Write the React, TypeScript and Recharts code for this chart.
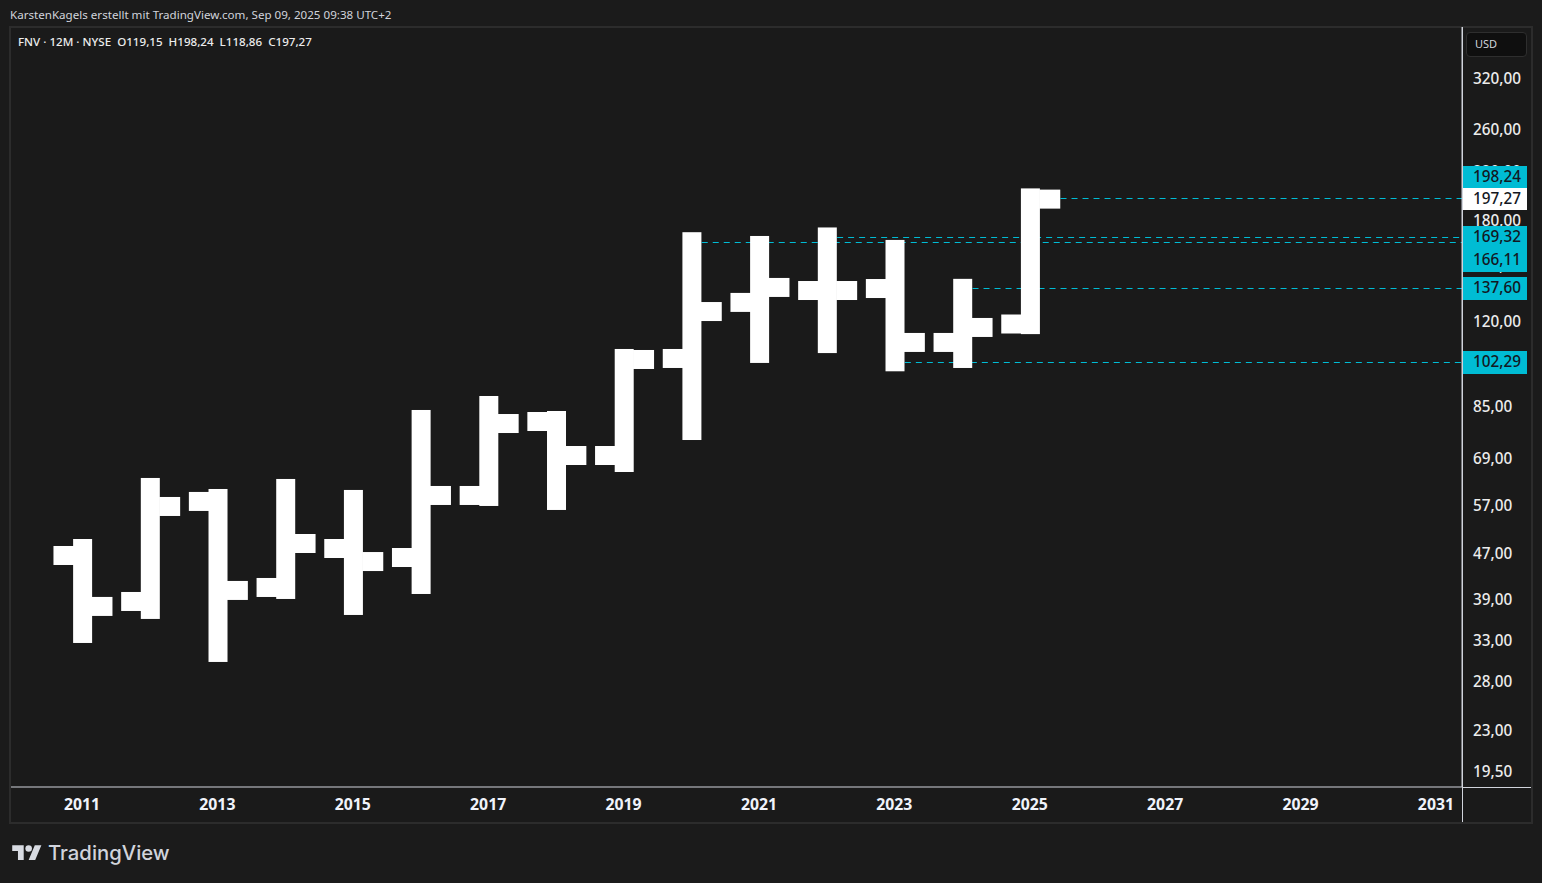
import * as React from 'react'
import { Bar, ComposedChart, Line, ReferenceLine, XAxis, YAxis } from 'recharts'

const years = [2011, 2012, 2013, 2014, 2015, 2016, 2017, 2018, 2019, 2020, 2021, 2022, 2023, 2024, 2025]
const opens = [46.8, 38.87, 58.21, 41.13, 48.14, 46.42, 59.63, 80.38, 70.07, 103.67, 130.0, 136.4, 137.5, 110.6, 119.15]
const highs = [48.14, 61.59, 58.91, 61.34, 58.68, 81.04, 85.75, 80.71, 103.67, 166.11, 163.6, 169.32, 161.0, 137.6, 198.24]
const lows = [34.16, 37.64, 31.64, 40.8, 38.25, 41.63, 59.39, 58.44, 68.12, 77.51, 105.8, 110.1, 102.29, 103.67, 118.86]
const closes = [38.1, 57.04, 40.64, 49.12, 45.67, 59.63, 79.73, 70.07, 103.25, 125.3, 138.1, 136.4, 110.6, 117.5, 197.27]

// 220 and 150 sit mostly behind the price tags, as in the reference
const priceTicks = [320, 260, 220, 180, 150, 120, 85, 69, 57, 47, 39, 33, 28, 23, 19.5]
const yearTicks = [2011, 2013, 2015, 2017, 2019, 2021, 2023, 2025, 2027, 2029, 2031]

// price lines: start year, price
const lineYears = [2020.14, 2022.14, 2023.14, 2024.14, 2025.44]
const linePrices = [166.11, 169.32, 102.29, 137.6, 198]

const tagPrices = [198.24, 197.27, 169.32, 166.11, 137.6, 102.29]
const tagTops = [166, 188, 226, 249, 277, 351]
const tagHeights = [22, 22, 23, 23, 23, 23]

const X_DOMAIN: [number, number] = [2009.937, 2031.37]
const Y_DOMAIN: [number, number] = [18.38, 395.2]

const WHITE = '#ffffff'
const CYAN = '#00bcd4'
const AXIS = '#d1d4dc'
const FONT = '"Noto Sans", sans-serif'

const data = years.map((year, i) => ({
  year,
  open: opens[i],
  close: closes[i],
  range: [lows[i], highs[i]],
}))

const comma = (v: number) => v.toFixed(2).replace('.', ',')

function Stem(props: any) {
  const { x, y, width, height } = props
  const c = x + width / 2
  return <rect x={c - 9.5} y={y - 9.5} width={19} height={height + 19} fill={WHITE} />
}

const openDot = (p: any) => (
  <rect key={'o' + p.index} x={p.cx - 29.5} y={p.cy - 9.5} width={21} height={19} fill={WHITE} />
)
const closeDot = (p: any) => (
  <rect key={'c' + p.index} x={p.cx + 8.5} y={p.cy - 9.5} width={21} height={19} fill={WHITE} />
)

// snap to a pixel row so the 1px dashes stay solid cyan
const PriceLine = (p: any) => {
  const y = Math.round(p.y1) + 0.5
  return <line x1={p.x1} x2={p.x2} y1={y} y2={y} stroke={CYAN} strokeWidth={1} strokeDasharray="6 5" />
}

export default function App() {
  return (
    <div
      style={{
        position: 'absolute',
        left: 0,
        top: 0,
        width: 1542,
        height: 883,
        overflow: 'hidden',
        fontFamily: FONT,
        backgroundColor: '#1b1b1b',
        backgroundImage: 'radial-gradient(#242424 0.6px, transparent 0.6px)',
        backgroundSize: '4px 4px',
      }}
    >
      <div style={{ position: 'absolute', left: 10, top: 7, fontSize: 11.6, lineHeight: '16px', color: '#d1d4dc', whiteSpace: 'nowrap' }}>
        KarstenKagels erstellt mit TradingView.com, Sep 09, 2025 09:38 UTC+2
      </div>

      <div style={{ position: 'absolute', left: 9, top: 26, width: 1520, height: 794, border: '2px solid #2c2c2c', background: '#1a1a1a' }} />

      <div style={{ position: 'absolute', left: 0, top: 0 }}>
        <ComposedChart width={1542} height={883} data={data} margin={{ top: 27, right: 11, bottom: 61, left: 11 }}>
          <XAxis
            dataKey="year"
            type="number"
            domain={X_DOMAIN}
            allowDataOverflow
            ticks={yearTicks}
            interval={0}
            tickLine={false}
            tickSize={0}
            tickMargin={12}
            height={35}
            axisLine={{ stroke: AXIS }}
            tick={{ fill: '#f0f3fa', fontSize: 15.8, fontWeight: 700, fontFamily: FONT, dx: -1 }}
          />
          <YAxis
            orientation="right"
            scale="log"
            domain={Y_DOMAIN}
            allowDataOverflow
            ticks={priceTicks}
            interval={0}
            width={69}
            tickLine={false}
            tickSize={0}
            tickMargin={11}
            axisLine={{ stroke: AXIS }}
            tickFormatter={comma}
            tick={{ fill: '#ececec', fontSize: 15.3, fontWeight: 500, fontFamily: FONT, textAnchor: 'start', dy: -1 }}
          />
          {lineYears.map((yr, i) => (
            <ReferenceLine
              key={yr}
              segment={[
                { x: yr, y: linePrices[i] },
                { x: X_DOMAIN[1], y: linePrices[i] },
              ]}
              shape={PriceLine}
              ifOverflow="visible"
              zIndex={100}
            />
          ))}
          <Bar dataKey="range" barSize={19} shape={Stem} isAnimationActive={false} />
          <Line dataKey="open" stroke="none" dot={openDot} activeDot={false} isAnimationActive={false} />
          <Line dataKey="close" stroke="none" dot={closeDot} activeDot={false} isAnimationActive={false} />
        </ComposedChart>
      </div>

      <div style={{ position: 'absolute', left: 1462, top: 27, width: 1, height: 795, background: AXIS }} />
      <div style={{ position: 'absolute', left: 1462, top: 787, width: 69, height: 1, background: AXIS }} />

      <div style={{ position: 'absolute', left: 18, top: 34, fontSize: 11.6, lineHeight: '16px', fontWeight: 500, color: '#ececec', whiteSpace: 'pre' }}>
        {'FNV · 12M · NYSE  O119,15  H198,24  L118,86  C197,27'}
      </div>

      <div
        style={{
          position: 'absolute',
          left: 1466,
          top: 32,
          width: 61,
          height: 25,
          boxSizing: 'border-box',
          background: '#0f0f0f',
          border: '1px solid #2e2e2e',
          borderRadius: 4,
          color: '#d1d4dc',
          fontSize: 11,
          lineHeight: '21px',
          paddingLeft: 8,
        }}
      >
        USD
      </div>

      {tagPrices.map((p, i) => (
        <div
          key={p}
          style={{
            position: 'absolute',
            left: 1463,
            top: tagTops[i],
            width: 64,
            height: tagHeights[i],
            background: i === 1 ? WHITE : CYAN,
            color: '#131722',
            fontSize: 15.3,
            fontWeight: 500,
            lineHeight: tagHeights[i] - 2 + 'px',
            paddingLeft: 10,
            boxSizing: 'border-box',
          }}
        >
          {comma(p)}
        </div>
      ))}

      <svg style={{ position: 'absolute', left: 12, top: 842 }} width={30} height={23} viewBox="0 0 36 28">
        <path d="M14 22H7V11H0V4h14v18zM28 22h-8l7.5-18h8L28 22z" fill="#d8dbe2" />
        <circle cx="20" cy="8" r="4" fill="#d8dbe2" />
      </svg>
      <div style={{ position: 'absolute', left: 48, top: 838, fontSize: 20.3, lineHeight: '30px', fontFamily: 'Inter, sans-serif', fontWeight: 500, color: '#d1d4dc' }}>
        TradingView
      </div>
    </div>
  )
}
